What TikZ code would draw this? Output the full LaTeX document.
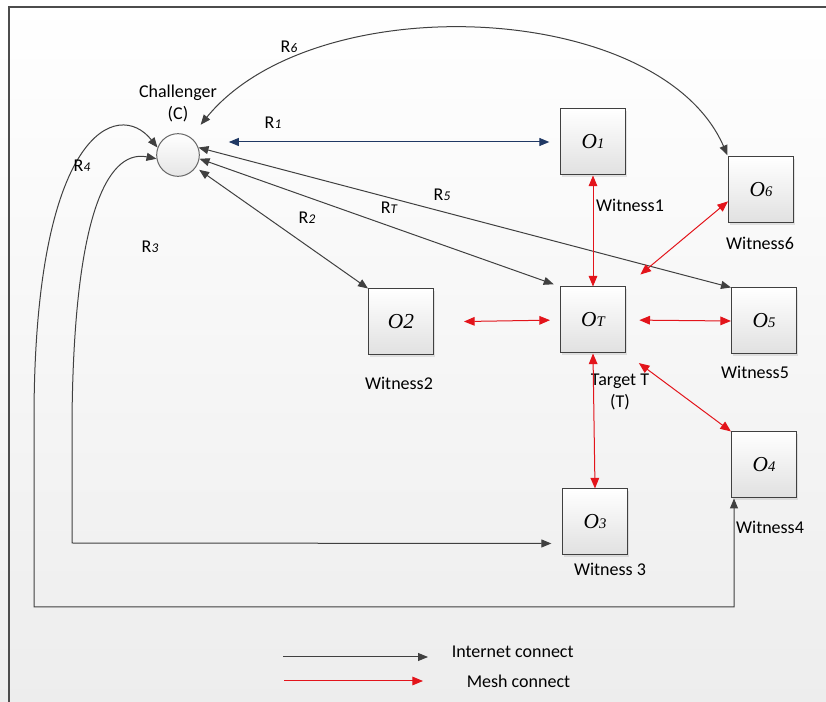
\documentclass[tikz,border=0pt]{standalone}
\usepackage{fontspec}
\setmainfont{Carlito}
\newfontfamily\objfont{Liberation Serif}
\usetikzlibrary{calc, positioning, arrows.meta, shadows}

\definecolor{netgray}{HTML}{404040}
\definecolor{netblue}{HTML}{1F3864}
\definecolor{meshred}{HTML}{E3141B}

% small italic index, as in R1, O1
\newcommand{\idx}[1]{{\fontsize{10}{10}\selectfont\itshape #1}}
\newcommand{\objlbl}[1]{O{\fontsize{11}{11}\selectfont #1}}

\begin{document}
\begin{tikzpicture}[
    x=0.75pt, y=-0.75pt,
    line width=0.75pt,
    obj/.style={draw=black!75, minimum width=48.75pt, minimum height=49.5pt, inner sep=0pt,
        top color=white, bottom color=black!12,
        drop shadow={opacity=0.2, shadow xshift=1.2pt, shadow yshift=-1.2pt},
        font=\objfont\itshape\fontsize{16}{16}\selectfont},
    lbl/.style={font=\fontsize{13.5}{16.5}\selectfont, align=center, inner sep=1pt},
    net/.style={draw=netgray, {Triangle[length=7.5pt, width=6pt]}-{Triangle[length=7.5pt, width=6pt]}},
    mesh/.style={draw=meshred, {Triangle[length=8pt, width=6.5pt]}-{Triangle[length=8pt, width=6.5pt]}},
]
    % Background and frame
    \fill[top color=white, bottom color=black!7] (0,0) rectangle (826,702);
    \useasboundingbox (0,0) rectangle (826,702);
    \draw[black!70, line width=1.5pt] (9,702) -- (9,7) -- (826,7);

    % Challenger
    \node[circle, draw=black!60, minimum size=32pt, inner sep=0pt, top color=white, bottom color=black!10] (C) at (178,155) {};
    \node[lbl] (chal) at (178,104) {Challenger\\(C)};

    % Objects
    \node[obj] (O1) at (593,142) {\objlbl{1}};
    \node[obj] (O6) at (761,190) {\objlbl{6}};
    \node[obj] (OT) at (593,320) {\objlbl{T}};
    \node[obj] (O2) at (401,322) {O2};
    \node[obj] (O5) at (764,321) {\objlbl{5}};
    \node[obj] (O4) at (764,465) {\objlbl{4}};
    \node[obj] (O3) at (595,522) {\objlbl{3}};

    \node[lbl] (w1) at (630,205) {Witness1};
    \node[lbl] (w6) at (760,243) {Witness6};
    \node[lbl] (w2) at (399,383) {Witness2};
    \node[lbl] (w5) at (755,372) {Witness5};
    \node[lbl] (tgt) at (620,392) {Target T\\(T)};
    \node[lbl] (w3) at (610,569) {Witness 3};
    \node[lbl] (w4) at (770,527) {Witness4};

    % Internet connections
    \draw[net, draw=netblue, shorten <=21.75pt, shorten >=8pt] (C.east |- O1.west) -- (O1.west);
    \draw[net, shorten <=3pt] (C.-35) -- (O2.north west);
    \draw[net, shorten >=5pt] (C.-10) -- (OT.north west);
    \draw[net] (C.20) -- (O5.north west);
    \draw[net, shorten <=1pt, shorten >=12pt] (O6.north west) .. controls (660,0) and (315,-15) .. (C.55);
    \draw[net] (C.160) .. controls (118,98) and (34,130) .. (34,420) -- (34,607) -| ($(O4.south west)+(3,0)$);
    \draw[net, shorten >=8pt] (C.-170) .. controls (112,150) and (74,200) .. (72,420) -- (72,543) -- ($(O3.south west)+(0,-12)$);

    \node[lbl] (r1) at (273,123) {R\idx{1}};
    \node[lbl] (r2) at (307,218) {R\idx{2}};
    \node[lbl] (rt) at (389,208) {R\idx{T}};
    \node[lbl] (r5) at (442,195) {R\idx{5}};
    \node[lbl] (r6) at (289,47) {R\idx{6}};
    \node[lbl] (r4) at (82,166) {R\idx{4}};
    \node[lbl] (r3) at (150,247) {R\idx{3}};

    % Mesh connections
    \draw[mesh] (O1.south) -- (OT.north);
    \draw[mesh, shorten <=22.5pt, shorten >=7.5pt] (O2.east) -- (OT.west);
    \draw[mesh, shorten <=10pt] (OT.east) -- (O5.west);
    \draw[mesh, shorten <=14pt] (OT.north east) -- ($(O6.south west)!0.33!(O6.north west)$);
    \draw[mesh] (OT.south) -- (O3.north);
    \draw[mesh, shorten <=12pt] (OT.south east) -- (O4.north west);

    % Legend
    \node[lbl, anchor=west] (inet) at (450,652) {Internet connect};
    \node[lbl, anchor=west] (meshl) at (465,681) {Mesh connect};
    \coordinate (inetA) at (283,657);
    \coordinate (meshA) at (284,681);
    \draw[draw=netgray, -{Triangle[length=7.5pt, width=6pt]}] (inetA) -- (inetA -| 428,0);
    \draw[draw=meshred, -{Triangle[length=8pt, width=6.5pt]}] (meshA) -- (meshA -| 423,0);
\end{tikzpicture}
\end{document}
